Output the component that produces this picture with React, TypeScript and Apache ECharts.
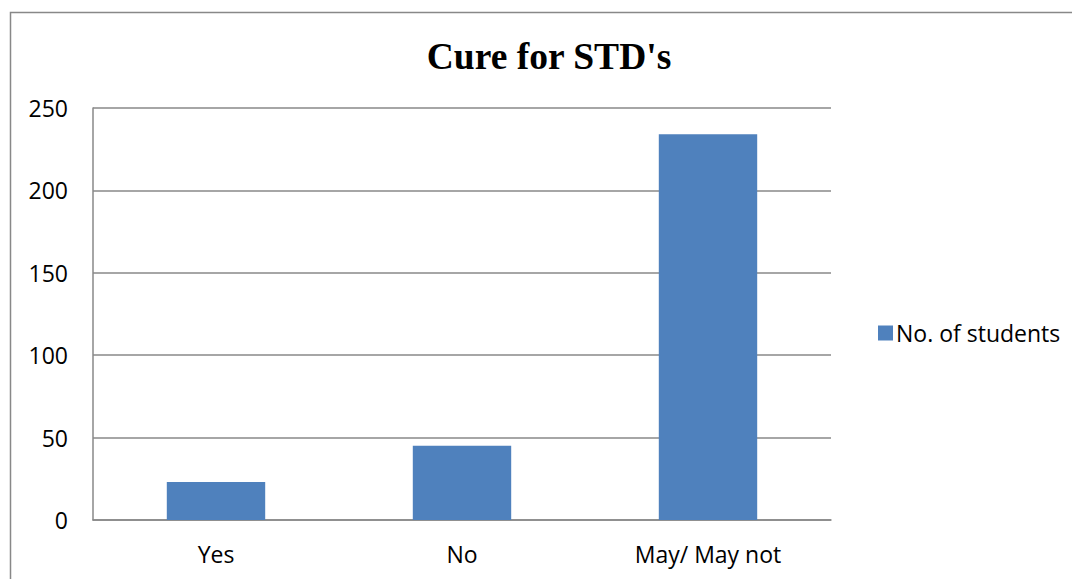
import React, { useEffect, useRef } from "react";
import * as echarts from "echarts";

const categories = ["Yes", "No", "May/ May not"];
const students = [23, 45, 234];
const seriesName = "No. of students";
const titleText = "Cure for STD's";

export default function App() {
  const ref = useRef<HTMLDivElement>(null);
  useEffect(() => {
    if (!ref.current) return;
    const chart = echarts.init(ref.current, null, { renderer: "svg" });
    const font = "Open Sans, Noto Sans, sans-serif";
    chart.setOption({
      animation: false,
      title: {
        text: titleText,
        left: 544,
        textAlign: "center",
        top: 32,
        textStyle: {
          fontFamily: "Liberation Serif, Times New Roman, serif",
          fontWeight: "bold",
          fontSize: 37.5,
          color: "#000",
        },
      },
      graphic: [
        {
          type: "rect",
          shape: { x: 10.5, y: 12.5, width: 1200, height: 700 },
          style: { fill: "none", stroke: "#888", lineWidth: 1.5 },
          silent: true,
        },
      ],
      legend: {
        left: 873,
        top: 316,
        itemWidth: 15,
        itemHeight: 15,
        itemGap: 8,
        icon: "rect",
        textStyle: { fontFamily: font, fontSize: 23, lineHeight: 24, color: "#000", padding: [0, 0, 0, -2] },
        data: [seriesName],
      },
      grid: { left: 93, top: 108, width: 738, height: 412, containLabel: false },
      xAxis: {
        type: "category",
        data: categories,
        axisLine: { show: true, lineStyle: { color: "#888", width: 1.5 } },
        axisTick: { show: false },
        axisLabel: {
          margin: 22,
          fontFamily: font,
          fontSize: 23,
          color: "#000",
        },
        splitLine: { show: false },
      },
      yAxis: {
        type: "value",
        min: 0,
        max: 250,
        interval: 50,
        axisLine: { show: true, lineStyle: { color: "#888", width: 1.5 } },
        axisTick: { show: false },
        axisLabel: {
          margin: 25,
          fontFamily: font,
          fontSize: 23,
          color: "#000",
        },
        splitLine: { show: true, lineStyle: { color: "#888", width: 1.5 } },
      },
      series: [
        {
          name: seriesName,
          type: "bar",
          data: students,
          barWidth: "40%",
          itemStyle: { color: "#4F81BD" },
        },
      ],
    });
    return () => chart.dispose();
  }, []);
  return (
    <div
      ref={ref}
      style={{ position: "absolute", left: 0, top: 0, width: 1072, height: 579, background: "#fff" }}
    />
  );
}
